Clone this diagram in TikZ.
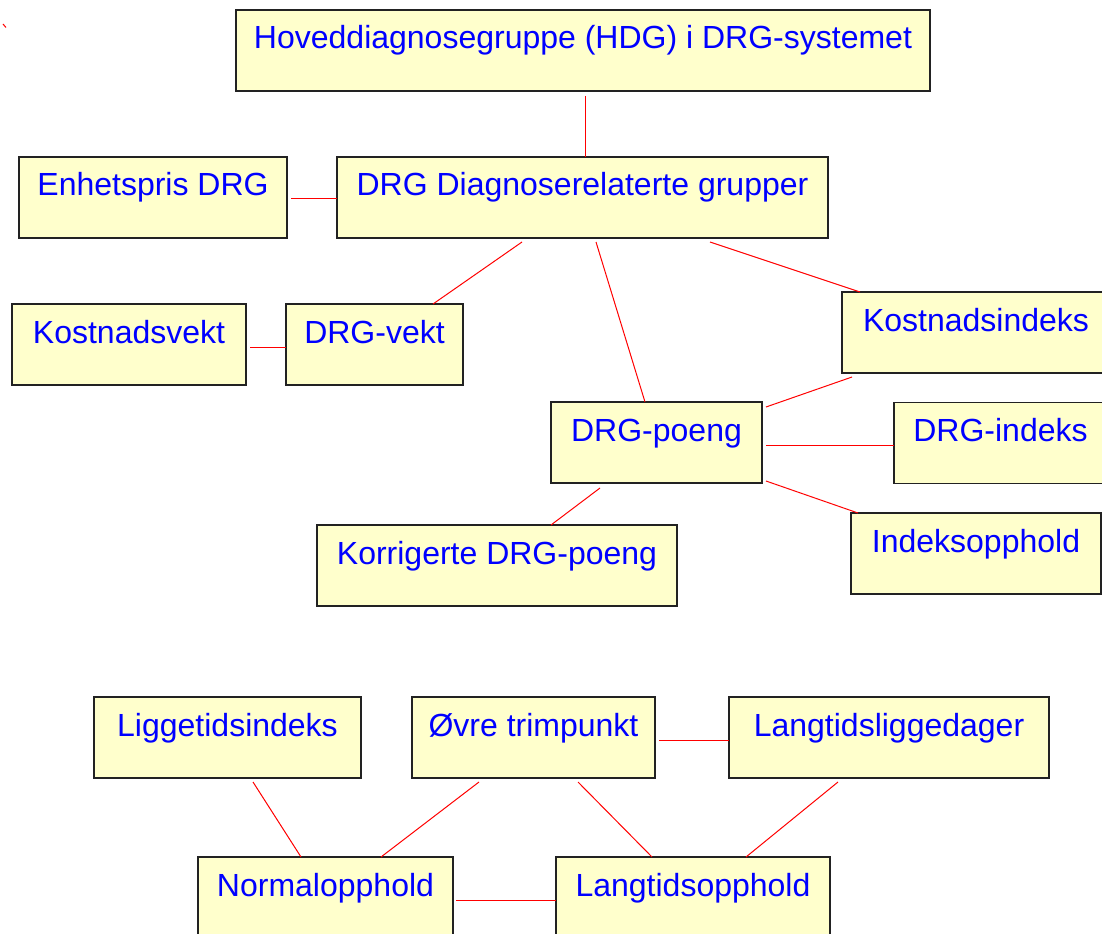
\documentclass[tikz,border=0pt]{standalone}
\usepackage{fontspec}
\setmainfont{Liberation Sans}
\definecolor{boxfill}{HTML}{FFFFCC}
\definecolor{boxline}{HTML}{222222}
\definecolor{linkred}{HTML}{FF0000}
\definecolor{labelblue}{HTML}{0000FF}
\tikzset{
  box/.style={draw=boxline, fill=boxfill, line width=1pt,
    inner xsep=0pt, inner ysep=0pt, outer sep=0pt,
    minimum height=60.75pt, text height=29.25pt, text depth=31.5pt,
    text=labelblue, font=\fontsize{24}{28}\selectfont},
  link/.style={draw=linkred, line width=0.75pt},
}
\begin{document}
\begin{tikzpicture}[x=0.75pt, y=-0.75pt]
\useasboundingbox (0,0) rectangle (1102,934);
\clip (0,0) rectangle (1102,934);

% upper group: DRG system
\node[box, minimum width=520.5pt]  (hdg)  at (583,50.5)   {Hoveddiagnosegruppe (HDG) i DRG-systemet};
\node[box, minimum width=201pt]    (enh)  at (153,197.5)  {Enhetspris DRG};
\node[box, minimum width=368.25pt] (drg)  at (582.5,197.5){DRG Diagnoserelaterte grupper};
\node[box, minimum width=175.5pt]  (kv)   at (129,344.5)  {Kostnadsvekt};
\node[box, minimum width=132.75pt] (dv)   at (374.5,344.5){DRG-vekt};
\node[box, minimum width=201pt]    (ki)   at (976,332.5)  {Kostnadsindeks};
\node[box, minimum width=158.25pt] (dp)   at (656.5,442.5){DRG-poeng};
\node[box, minimum width=159.75pt] (di)   at (1000.5,443) {DRG-indeks};
\node[box, minimum width=270pt]    (kor)  at (497,565.5)  {Korrigerte DRG-poeng};
\node[box, minimum width=187.5pt]  (io)   at (976,553.5)  {Indeksopphold};

% lower group: length of stay
\node[box, minimum width=200.25pt] (lti)  at (227.5,737.5){Liggetidsindeks};
\node[box, minimum width=182.25pt] (ovre) at (533.5,737.5){Øvre trimpunkt};
\node[box, minimum width=240pt]    (lld)  at (889,737.5)  {Langtidsliggedager};
\node[box, minimum width=191.25pt] (no)   at (325.5,897.5){Normalopphold};
\node[box, minimum width=205.5pt]  (lto)  at (693,897.5)  {Langtidsopphold};

% connectors
\draw[link] ([shift={(2.5,5)}]hdg.south) -- ([shift={(3,0)}]drg.north);
\draw[link] ([shift={(4,1.5)}]enh.east) -- ([shift={(0,1.5)}]drg.west);
\draw[link] ([shift={(-60.5,4)}]drg.south) -- ([shift={(58.5,0)}]dv.north);
\draw[link] ([shift={(13.5,4)}]drg.south) -- ([shift={(-11.5,0)}]dp.north);
\draw[link] ([shift={(127.5,4)}]drg.south) -- ([shift={(18,0)}]ki.north west);
\draw[link] ([shift={(4,2.5)}]kv.east) -- ([shift={(0,2.5)}]dv.west);
\draw[link] ([shift={(10,4)}]ki.south west) -- ([shift={(4,5)}]dp.north east);
\draw[link] ([shift={(4,2.5)}]dp.east) -- ([shift={(0,2)}]di.west);
\draw[link] ([shift={(4,-2)}]dp.south east) -- ([shift={(7,0)}]io.north west);
\draw[link] ([shift={(-56.5,5)}]dp.south) -- ([shift={(54,0)}]kor.north);
\draw[link] ([shift={(25.5,4)}]lti.south) -- ([shift={(-24.5,0)}]no.north);
\draw[link] ([shift={(-54.5,4)}]ovre.south) -- ([shift={(55.5,0)}]no.north);
\draw[link] ([shift={(44.5,4)}]ovre.south) -- ([shift={(-41,0)}]lto.north);
\draw[link] ([shift={(4,2.5)}]ovre.east) -- ([shift={(0,2.5)}]lld.west);
\draw[link] ([shift={(-51,4)}]lld.south) -- ([shift={(53,0)}]lto.north);
\draw[link] ([shift={(3,2.5)}]no.east) -- ([shift={(0,2.5)}]lto.west);

% small stray stroke in the corner
\draw[link] (3,24) -- (6,27.5);
\end{tikzpicture}
\end{document}
